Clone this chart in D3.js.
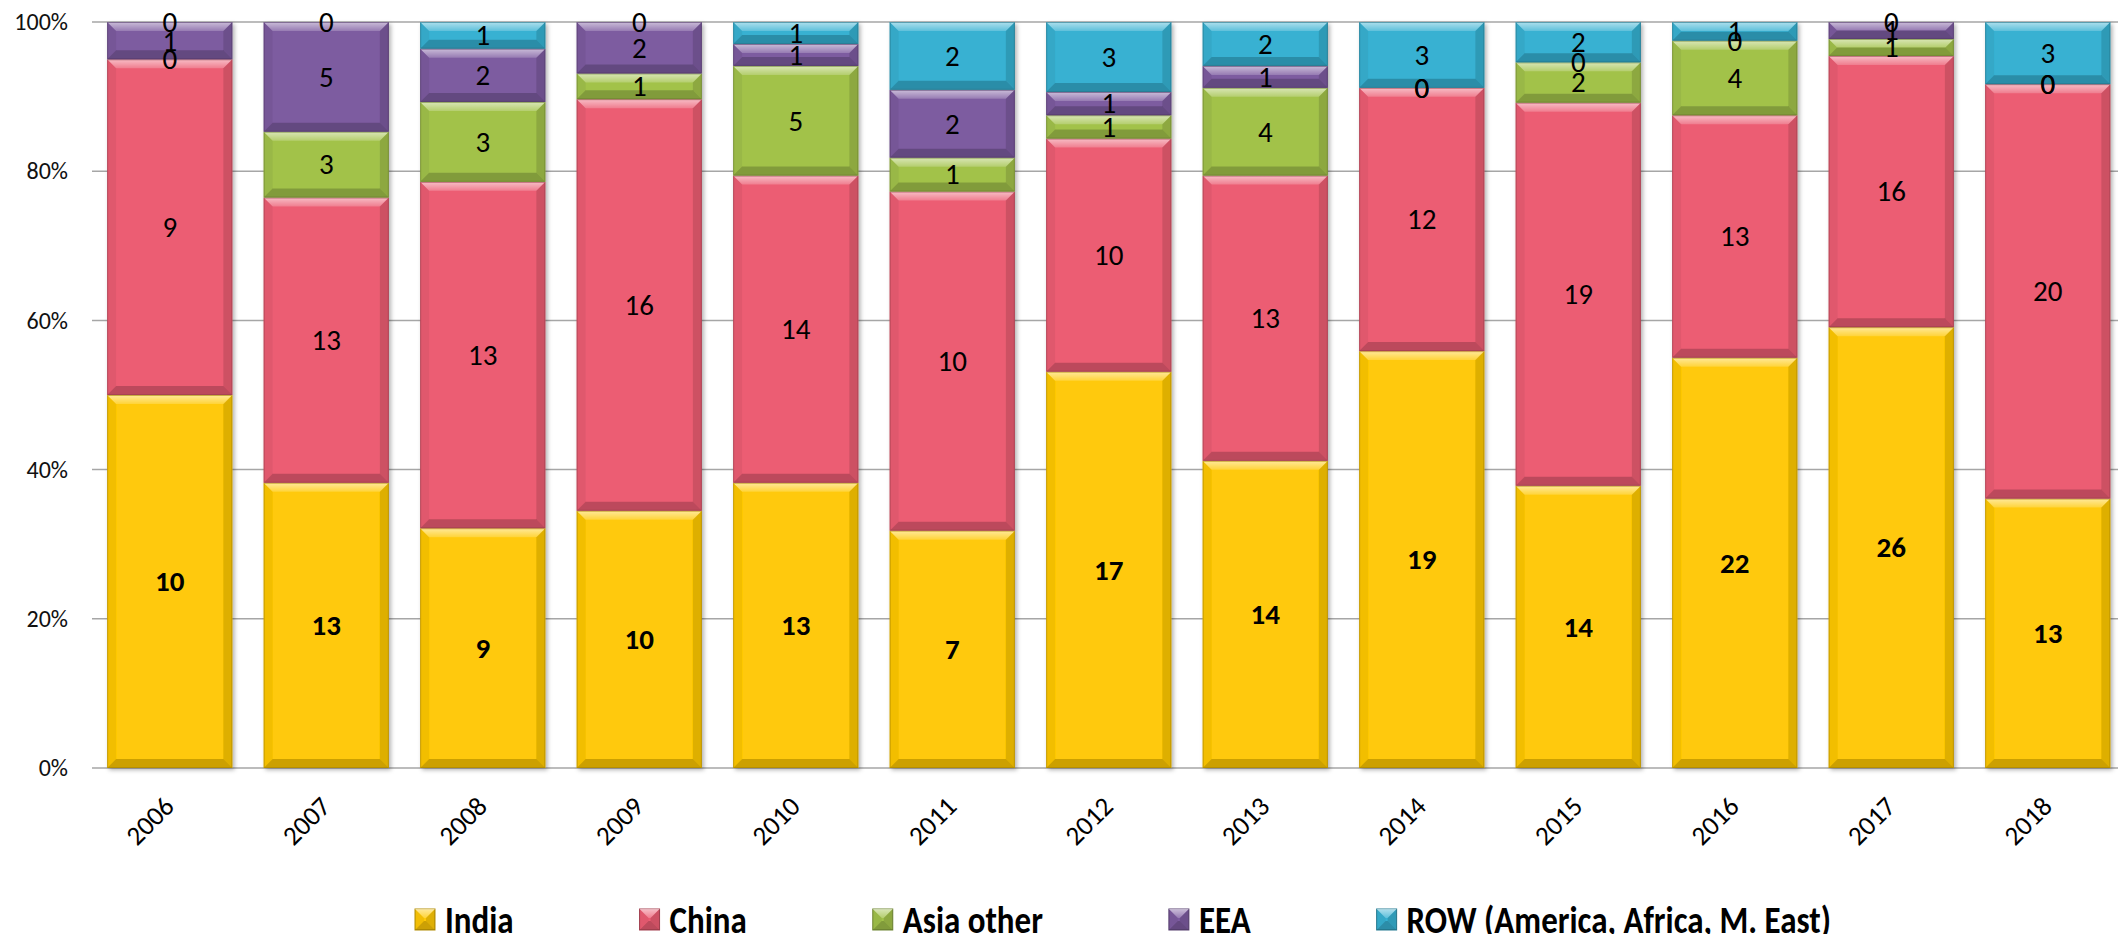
<!DOCTYPE html>
<html>
<head>
<meta charset="utf-8">
<script src="https://cdn.jsdelivr.net/npm/d3@7"></script>
<style>
  html, body { margin: 0; padding: 0; background: #fff; }
  svg { display: block; font-family: Carlito, Lato, "Open Sans", sans-serif; }
</style>
</head>
<body>
<svg id="chart" width="2118" height="934"></svg>
<script>
// data
const years = ['2006','2007','2008','2009','2010','2011','2012','2013','2014','2015','2016','2017','2018'];
const seriesNames = ['India', 'China', 'Asia other', 'EEA', 'ROW (America, Africa, M. East)'];
const india     = [10, 13,  9, 10, 13,  7, 17, 14, 19, 14, 22, 26, 13];
const china     = [ 9, 13, 13, 16, 14, 10, 10, 13, 12, 19, 13, 16, 20];
const asiaOther = [ 0,  3,  3,  1,  5,  1,  1,  4,  0,  2,  4,  1,  0];
const eea       = [ 1,  5,  2,  2,  1,  2,  1,  1,  0,  0,  0,  1,  0];
const rowWorld  = [ 0,  0,  1,  0,  1,  2,  3,  2,  3,  2,  1,  0,  3];
const yTicks = [0, 0.2, 0.4, 0.6, 0.8, 1];
const colors = ['#ffc907', '#ec5d73', '#a2c24a', '#7d5ba0', '#37b1d2'];

const seriesValues = [india, china, asiaOther, eea, rowWorld];
const table = years.map((yr, i) => {
    const r = {year: yr};
    seriesNames.forEach((k, j) => r[k] = seriesValues[j][i]);
    return r;
});

const svg = d3.select('#chart');
const width = +svg.attr('width');

const x = d3.scaleBand()
    .domain(years)
    .range([91.5, 91.5 + 13 * 156.5])
    .paddingInner(0.2)
    .paddingOuter(0.1);
const y = d3.scaleLinear().domain([0, 1]).range([768, 22]);
const color = d3.scaleOrdinal().domain(seriesNames).range(colors);

const stack = d3.stack().keys(seriesNames).offset(d3.stackOffsetExpand);
const layers = stack(table);

const defs = svg.append('defs');
const shadow = defs.append('filter').attr('id', 'shadow')
    .attr('x', '-5%').attr('y', '-5%').attr('width', '115%').attr('height', '115%');
shadow.append('feDropShadow')
    .attr('dx', 2).attr('dy', 2).attr('stdDeviation', 2)
    .attr('flood-color', '#000').attr('flood-opacity', 0.3);

const hi = defs.append('linearGradient').attr('id', 'hi')
    .attr('x1', 0).attr('y1', 0).attr('x2', 0).attr('y2', 1);
hi.append('stop').attr('offset', '0%').attr('stop-color', '#fff').attr('stop-opacity', 0.6);
hi.append('stop').attr('offset', '100%').attr('stop-color', '#fff').attr('stop-opacity', 0.2);

// gridlines
svg.append('g')
    .selectAll('line')
    .data(yTicks)
    .enter()
    .append('line')
    .attr('x1', 92)
    .attr('x2', width)
    .attr('y1', d => y(d))
    .attr('y2', d => y(d))
    .attr('stroke', '#a6a6a6')
    .attr('stroke-width', 1.5);

// y tick labels
svg.append('g')
    .selectAll('text')
    .data(yTicks)
    .enter()
    .append('text')
    .attr('x', 68)
    .attr('y', d => y(d))
    .attr('dy', '0.34em')
    .attr('text-anchor', 'end')
    .attr('font-size', 24)
    .attr('fill', '#111')
    .text(d3.format('.0%'));

// bevel facets for the "3d" bar look
const bevel = 9;
function facets(x0, y0, w, h) {
    const b = Math.min(bevel, h / 2, w / 2);
    const x1 = x0 + w, y1 = y0 + h;
    return [
        {pts: [[x0, y0], [x1, y0], [x1 - b, y0 + b], [x0 + b, y0 + b]], fill: 'url(#hi)', op: 1},
        {pts: [[x0, y1], [x1, y1], [x1 - b, y1 - b], [x0 + b, y1 - b]], fill: '#000', op: 0.2},
        {pts: [[x0, y0], [x0 + b, y0 + b], [x0 + b, y1 - b], [x0, y1]], fill: '#000', op: 0.05},
        {pts: [[x1, y0], [x1 - b, y0 + b], [x1 - b, y1 - b], [x1, y1]], fill: '#000', op: 0.13}
    ];
}

const segs = [];
layers.forEach(layer => {
    layer.forEach((d, i) => {
        segs.push({key: layer.key, year: years[i], y0: d[0], y1: d[1], value: d.data[layer.key]});
    });
});

const columns = svg.append('g')
    .selectAll('g.col')
    .data(years)
    .enter()
    .append('g')
    .attr('class', 'col')
    .attr('filter', 'url(#shadow)');

columns.each(function (yr) {
    const g = d3.select(this);
    const mine = segs.filter(s => s.year === yr && s.y1 - s.y0 > 0);
    mine.forEach(s => {
        const x0 = x(s.year), w = x.bandwidth();
        const top = y(s.y1), h = y(s.y0) - y(s.y1);
        const c = color(s.key);
        g.append('rect')
            .attr('x', x0).attr('y', top)
            .attr('width', w).attr('height', h)
            .attr('fill', c);
        facets(x0, top, w, h).forEach(f => {
            g.append('polygon')
                .attr('points', f.pts.map(p => p.join(',')).join(' '))
                .attr('fill', f.fill)
                .attr('fill-opacity', f.op);
        });
        g.append('rect')
            .attr('x', x0 + 0.5).attr('y', top + 0.5)
            .attr('width', w - 1).attr('height', Math.max(0, h - 1))
            .attr('fill', 'none')
            .attr('stroke', d3.color(c).darker(1.2))
            .attr('stroke-opacity', 0.6)
            .attr('stroke-width', 1);
    });
});

// data labels
svg.append('g')
    .selectAll('text')
    .data(segs)
    .enter()
    .append('text')
    .attr('x', d => x(d.year) + x.bandwidth() / 2)
    .attr('y', d => y((d.y0 + d.y1) / 2))
    .attr('dy', '0.34em')
    .attr('text-anchor', 'middle')
    .attr('font-size', 29)
    .attr('font-weight', d => d.key === 'India' ? 'bold' : 'normal')
    .attr('fill', '#000')
    .text(d => d.value);

// x tick labels
svg.append('g')
    .selectAll('text')
    .data(years)
    .enter()
    .append('text')
    .attr('transform', d => `translate(${x(d) + x.bandwidth() / 2 + 6},808) rotate(-45)`)
    .attr('text-anchor', 'end')
    .attr('font-size', 27)
    .attr('fill', '#000')
    .text(d => d);

// legend
const legend = svg.append('g').attr('class', 'legend');
let lx = 415;
seriesNames.forEach(name => {
    const c = color(name);
    const item = legend.append('g').attr('transform', `translate(${lx},909)`);
    item.append('rect').attr('width', 20).attr('height', 21).attr('fill', c)
        .attr('stroke', d3.color(c).darker(1)).attr('stroke-width', 1);
    facets(0, 0, 20, 21).forEach(f => {
        item.append('polygon')
            .attr('points', f.pts.map(p => p.join(',')).join(' '))
            .attr('fill', f.fill)
            .attr('fill-opacity', f.op);
    });
    const t = item.append('text')
        .attr('x', 30)
        .attr('y', 24)
        .attr('font-size', 34)
        .attr('font-weight', 'bold')
        .attr('fill', '#000')
        .attr('transform', 'translate(30,24) scale(0.97,1.12) translate(-30,-24)')
        .text(name);
    lx += 30 + t.node().getComputedTextLength() * 0.97 + 126;
});
</script>
</body>
</html>
